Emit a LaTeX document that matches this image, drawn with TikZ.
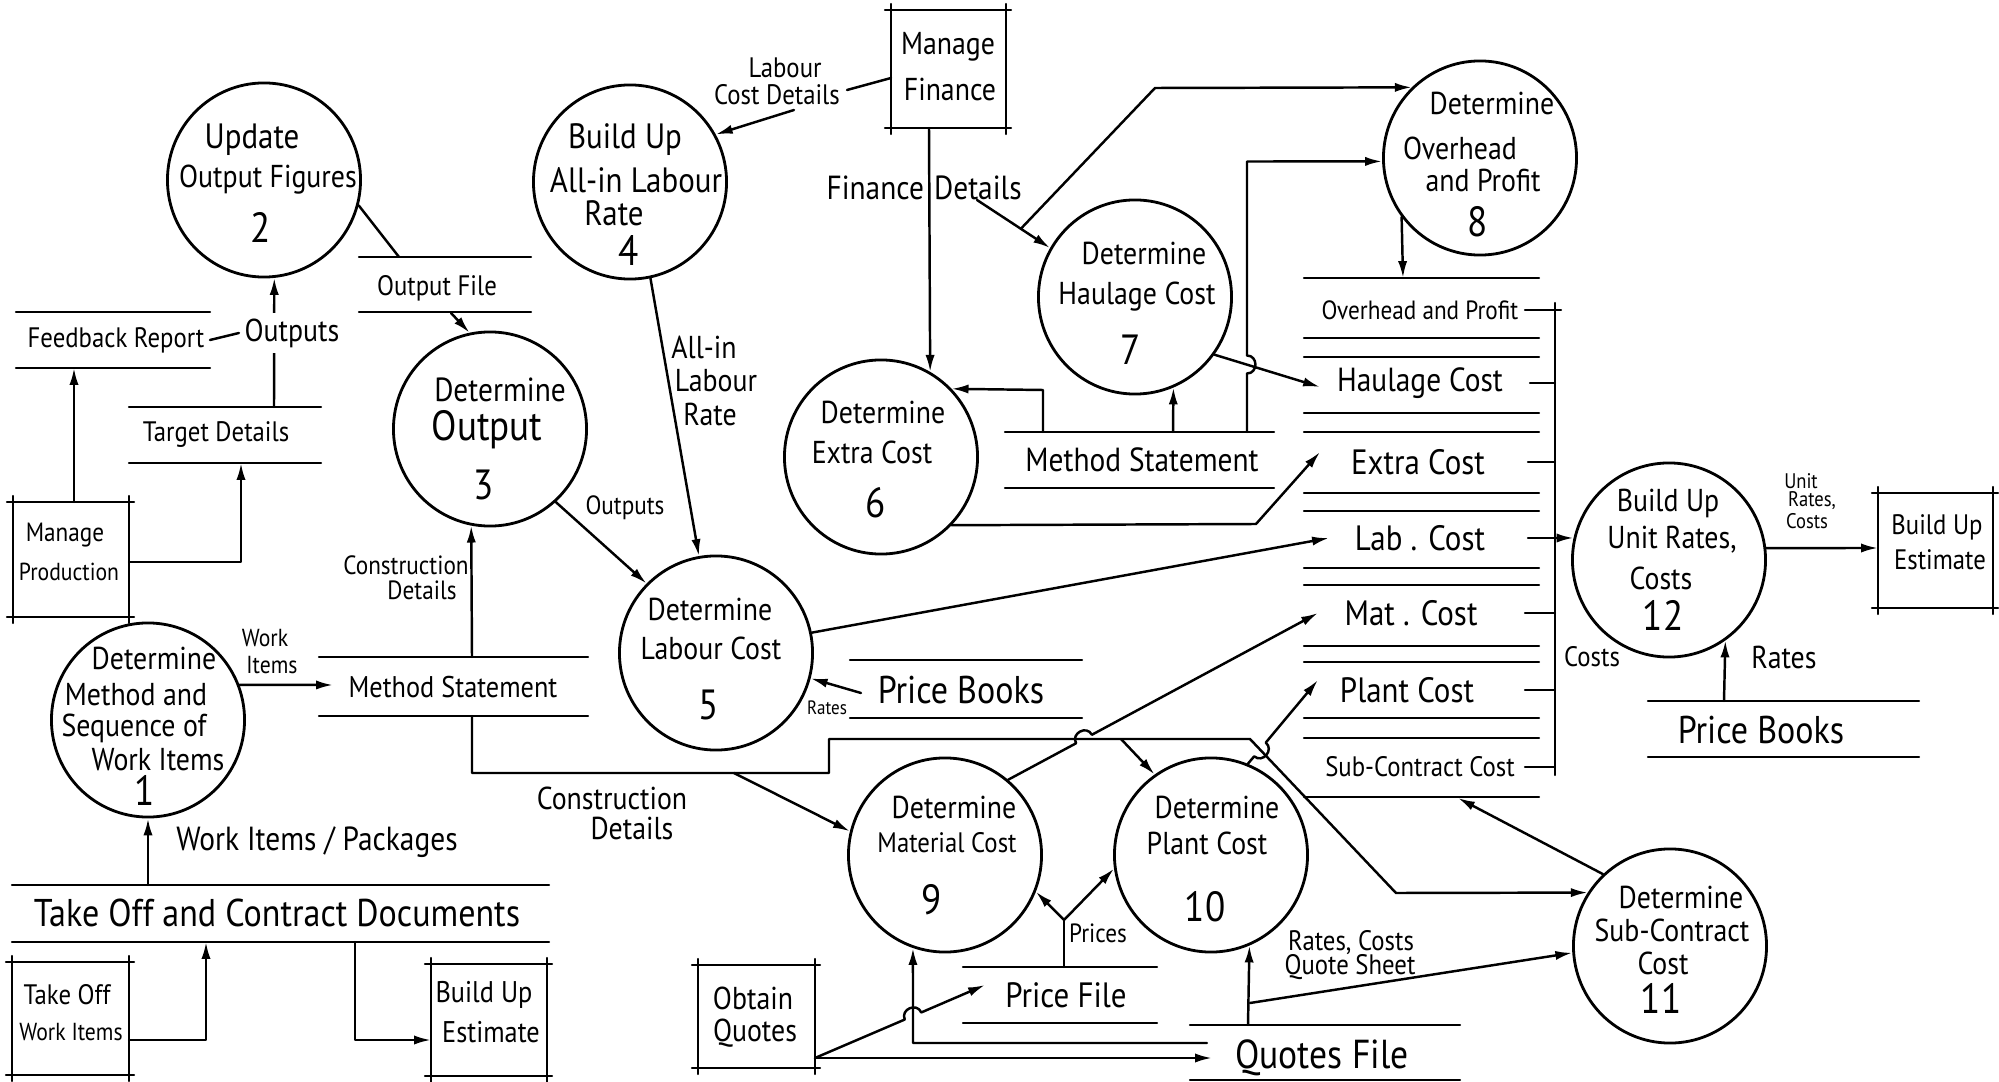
\documentclass[tikz,border=0pt]{standalone}
\usepackage{fontspec}
\setmainfont{PT Sans}
\usetikzlibrary{arrows.meta,shapes.geometric,calc}

% external entity: two verticals and two horizontals crossing at the corners
\newcommand\extbox[4]{%
  \draw ({#1-6},#2) -- ({#3+5},#2);
  \draw ({#1-6},#4) -- ({#3+5},#4);
  \draw (#1,{#2-6}) -- (#1,{#4+6});
  \draw (#3,{#2-6}) -- (#3,{#4+6});}
% data store: two parallel horizontal lines
\newcommand\dstore[4]{%
  \draw (#1,#3) -- (#2,#3);
  \draw (#1,#4) -- (#2,#4);}

\begin{document}
\begin{tikzpicture}[x=0.01cm,y=-0.01cm,
  line width=0.7pt, line cap=round, line join=round,
  >={Latex[length=4.8pt,width=2.6pt]},
  proc/.style={draw, ellipse, minimum width=1.93cm, minimum height=1.94cm,
               inner sep=0pt, line width=0.8pt},
  t/.style={inner sep=0pt, font=\fontsize{#1}{#1}\selectfont, xscale=0.88, transform shape},
  lbl/.style={t=#1, fill=white, inner sep=1.5pt}]

\fill[white] (0,0) rectangle (1999,1082);
\useasboundingbox (0,0) rectangle (1999,1082);

% ---------------- processes ----------------
\node[proc] (c1) at (148,720) {};
\node[proc] (c2) at (264,180) {};
\node[proc] (c3) at (490,429) {};
\node[proc] (c4) at (630,182) {};
\node[proc] (c5) at (716,653) {};
\node[proc] (c6) at (881,457) {};
\node[proc] (c7) at (1135,297) {};
\node[proc] (c8) at (1480,158) {};
\node[proc] (c9) at (945,855) {};
\node[proc] (c10) at (1211,855) {};
\node[proc] (c11) at (1670,946) {};
\node[proc] (c12) at (1669,560) {};

\node[t=9pt] (c1a) at (154,658) {Determine};
\node[t=9pt] (c1b) at (136,695) {Method and};
\node[t=9pt] (c1c) at (134,728) {Sequence of};
\node[t=9pt] (c1d) at (158,760) {Work Items};
\node[t=12pt] (c1n) at (145,790) {1};

\node[t=10pt] (c2a) at (252,140) {Update};
\node[t=9pt] (c2b) at (268,180) {Output Figures};
\node[t=12pt] (c2n) at (261,227) {2};

\node[t=9.5pt] (c3a) at (500,390) {Determine};
\node[t=12pt] (c3b) at (487,430) {Output};
\node[t=12pt] (c3n) at (484,485) {3};

\node[t=10pt] (c4a) at (625,140) {Build Up};
\node[t=10pt] (c4b) at (636,180) {All-in Labour};
\node[t=10pt] (c4c) at (614,213) {Rate};
\node[t=12pt] (c4n) at (629,250) {4};

\node[t=9pt] (c5a) at (710,609) {Determine};
\node[t=9pt] (c5b) at (711,648) {Labour Cost};
\node[t=12pt] (c5n) at (709,705) {5};

\node[t=9pt] (c6a) at (883,412) {Determine};
\node[t=9pt] (c6b) at (872,452) {Extra Cost};
\node[t=12pt] (c6n) at (876,503) {6};

\node[t=9pt] (c7a) at (1144,253) {Determine};
\node[t=9pt] (c7b) at (1137,297) {Haulage Cost};
\node[t=12pt] (c7n) at (1131,350) {7};

\node[t=9pt] (c8a) at (1492,103) {Determine};
\node[t=9pt] (c8b) at (1460,148) {Overhead};
\node[t=9pt] (c8c) at (1483,180) {and Profit};
\node[t=12pt] (c8n) at (1478,222) {8};

\node[t=9pt] (c9a) at (954,807) {Determine};
\node[t=8pt] (c9b) at (947,843) {Material Cost};
\node[t=12pt] (c9n) at (932,900) {9};

\node[t=9pt] (c10a) at (1217,807) {Determine};
\node[t=9pt] (c10b) at (1207,843) {Plant Cost};
\node[t=12pt] (c10n) at (1205,907) {10};

\node[t=9pt] (c11a) at (1681,897) {Determine};
\node[t=9pt] (c11b) at (1672,930) {Sub-Contract};
\node[t=9pt] (c11c) at (1663,963) {Cost};
\node[t=12pt] (c11n) at (1661,998) {11};

\node[t=9pt] (c12a) at (1668,503) {Build Up};
\node[t=9pt] (c12b) at (1672,540) {Unit Rates,};
\node[t=9pt] (c12c) at (1661,578) {Costs};
\node[t=12pt] (c12n) at (1663,615) {12};

% ---------------- external entities ----------------
\extbox{891}{10}{1006}{128}
\node[t=9pt] (mfa) at (948,47) {Manage};
\node[t=9pt] (mfb) at (950,89) {Finance};

\extbox{13}{502}{129}{617}
\node[t=7.5pt] (mpa) at (65,535) {Manage};
\node[t=7pt] (mpb) at (69,572) {Production};

\extbox{1878}{493}{1993}{608}
\node[t=8pt] (bea) at (1937,527) {Build Up};
\node[t=8pt] (beb) at (1940,560) {Estimate};

\extbox{698}{965}{815}{1068}
\node[t=9pt] (oqa) at (753,998) {Obtain};
\node[t=9pt] (oqb) at (755,1033) {Quotes};

\extbox{12}{962}{129}{1075}
\node[t=8pt] (twa) at (67,995) {Take Off};
\node[t=7pt] (twb) at (71,1032) {Work Items};

\extbox{431}{964}{547}{1076}
\node[t=8.5pt] (bba) at (484,995) {Build Up};
\node[t=8.5pt] (bbb) at (491,1032) {Estimate};

% ---------------- data stores ----------------
\dstore{359}{531}{257}{312}
\node[t=8pt] (sof) at (437,288) {Output File};
\dstore{16}{210}{312}{368}
\node[t=8pt] (sfb) at (116,340) {Feedback Report};
\dstore{129}{321}{407}{463}
\node[t=8pt] (std) at (216,435) {Target Details};
\dstore{319}{588}{657}{716}
\node[t=8.5pt] (sml) at (453,687) {Method Statement};
\dstore{1005}{1274}{432}{488}
\node[t=9.5pt] (smr) at (1142,460) {Method Statement};
\dstore{850}{1082}{660}{718}
\node[t=11pt] (spm) at (961,690) {Price Books};
\dstore{1648}{1919}{701}{757}
\node[t=11pt] (spr) at (1761,730) {Price Books};
\dstore{963}{1157}{967}{1023}
\node[t=10pt] (spf) at (1066,995) {Price File};
\dstore{1190}{1460}{1025}{1080}
\node[t=11.5pt] (sqf) at (1322,1058) {Quotes File};
\dstore{12}{549}{885}{942}
\node[t=11pt] (stc) at (277,913) {Take Off and Contract Documents};

% cost file with its rows
\foreach \yy in {278,338,357,413,432,493,511,568,585,646,662,718,738,797}
  \draw (1304,\yy) -- (1539,\yy);
\draw (1555,303) -- (1555,775);
\node[t=7.5pt] (r1) at (1420,310) {Overhead and Profit};
\node[t=9.5pt] (r2) at (1420,383) {Haulage Cost};
\node[t=10pt] (r3) at (1418,462) {Extra Cost};
\node[t=10pt] (r4) at (1420,538) {Lab . Cost};
\node[t=10pt] (r5) at (1411,613) {Mat . Cost};
\node[t=10pt] (r6) at (1407,690) {Plant Cost};
\node[t=8pt] (r7) at (1420,767) {Sub-Contract Cost};
\draw (1525,310) -- (1561,310);
\draw (1530,383) -- (1555,383);
\draw (1528,462) -- (1555,462);
\draw (1528,538) -- (1555,538);
\draw (1525,613) -- (1555,613);
\draw (1525,690) -- (1555,690);
\draw (1525,767) -- (1555,767);

% ---------------- data flows ----------------
% output figures
\coordinate (ofT) at (399,257);
\draw (c2.-15) -- (ofT);
\coordinate (ofB) at (451,313);
\draw[->] (ofB) -- (c3.102);
\coordinate (tdT) at (274,407);
\draw[->] (tdT) -- (c2.-84);
\node[lbl=9pt] (outA) at (292,333) {Outputs};
\coordinate (fbR) at (210,340);
\draw (fbR) -- (outA.west);
\coordinate (mpT) at (74,502);
\coordinate (fbB) at (74,368);
\draw[->] (mpT) -- (fbB);
\coordinate (mpR) at (129,562);
\coordinate (tdB) at (241,463);
\draw[->] (mpR) -| (tdB);

% finance
\coordinate (mfL) at (891,78);
\coordinate (lcd1) at (847,90);
\coordinate (lcd2) at (794,110);
\draw (mfL) -- (lcd1);
\draw[->] (lcd2) -- (c4.29);
\node[t=8pt] (lcdA) at (785,68) {Labour};
\node[t=8pt] (lcdB) at (777,95) {Cost Details};

\coordinate (mfB) at (929,128);
\draw[->] (mfB) -- (c6.60);
\node[t=9.5pt,anchor=east] (fdA) at (925,188) {Finance};
\node[t=9.5pt,anchor=west] (fdB) at (933,188) {Details};
\coordinate (fdS) at (977,200);
\draw[->] (fdS) -- (c7.150);
\coordinate (fdJ) at ($(fdS)!0.6!(c7.150)$);
\coordinate (ohK) at (1155,88);
\draw[->] (fdJ) -- (ohK) -- (c8.134);

% method statement to processes 6, 7, 8
\coordinate (msR1) at (1043,432);
\coordinate (msR1t) at (1043,390);
\draw[->] (msR1) -- (msR1t) -- (c6.44);
\coordinate (msR2) at (1173,432);
\draw[->] (msR2) -- (c7.-67);
\coordinate (msR3) at (1247,432);
\coordinate (hopA) at (1247,364.5);
\coordinate (ohK2) at (1247,161.5);
\draw[->] (msR3) -- ($(hopA)+(0,9)$) to[bend right=90,looseness=1.6] ($(hopA)+(0,-9)$)
  -- (ohK2) -- (c8.182);

% costs into the cost file
\coordinate (hcIn) at (1320,387);
\draw[->] (c7.-36) -- (hcIn);
\coordinate (ecK) at (1256,524);
\coordinate (ecIn) at (1320,452);
\draw[->] (c6.-44) -- (ecK) -- (ecIn);
\coordinate (stT) at (1403,278);
\draw[->] (c8.-143) -- (stT);
\coordinate (lcIn) at (1329,538);
\draw[->] (c5.12) -- (lcIn);
\coordinate (mcIn) at (1318,613);
\coordinate (hop1) at (1084,739);
\draw[->] (c9.50) -- ($(hop1)!0.09cm!(c9.50)$) to[bend left=90,looseness=1.6]
  ($(hop1)!0.09cm!(mcIn)$) -- (mcIn);
\coordinate (pcIn) at (1318,680);
\coordinate (hop2) at (1260,749.5);
\draw[->] (c10.68) -- ($(hop2)!0.09cm!(c10.68)$) to[bend right=90,looseness=1.6]
  ($(hop2)!0.09cm!(pcIn)$) -- (pcIn);
\coordinate (stB) at (1458,798);
\draw[->] (c11.133) -- (stB);

% all-in labour rate and outputs
\draw[->] (c4.-78) -- (c5.100);
\node[t=9pt] (alA) at (704,347) {All-in};
\node[t=9pt] (alB) at (716,381) {Labour};
\node[t=9pt] (alC) at (710,414) {Rate};
\draw[->] (c3.-48) -- (c5.135);
\node[t=7.5pt] (outB) at (625,508) {Outputs};

% method statement (left)
\coordinate (msLin) at (333,685);
\draw[->] (c1.21) -- (msLin);
\node[t=7pt] (wiA) at (265,638) {Work};
\node[t=7pt] (wiB) at (272,665) {Items};
\coordinate (msL1) at (472,657);
\draw[->] (msL1) -- (c3.-101);
\node[t=7.5pt] (cdA) at (406,565) {Construction};
\node[t=7.5pt] (cdB) at (422,590) {Details};

% construction details to processes 9, 10, 11
\coordinate (msL2) at (472,716);
\coordinate (cd1) at (472,773);
\coordinate (cd2) at (829,773);
\coordinate (cd3) at (829,739);
\coordinate (cd4) at (1250,739);
\coordinate (cd5) at (1396,893);
\draw[->] (msL2) -- (cd1) -- (cd2) -- (cd3) -- (cd4) -- (cd5) -- (c11.147);
\coordinate (cdX) at (734,773);
\draw[->] (cdX) -- (c9.166);
\coordinate (cdY) at (1121,739);
\draw[->] (cdY) -- (c10.125);
\node[t=9pt] (cdC) at (612,798) {Construction};
\node[t=9pt] (cdD) at (632,828) {Details};

% price books
\coordinate (pbmL) at (861,693);
\draw[->] (pbmL) -- (c5.-15);
\node[t=5.5pt] (rtA) at (827,708) {Rates};
\coordinate (pbrT) at (1724,701);
\draw[->] (pbrT) -- (c12.-55);
\node[t=9pt] (rtB) at (1784,657) {Rates};
\coordinate (stV) at (1555,538);
\draw[->] (stV) -- (c12.167);
\node[t=8pt] (csA) at (1592,657) {Costs};
\coordinate (bueL) at (1878,548);
\draw[->] (c12.7) -- (bueL);
\node[t=6pt] (urA) at (1801,481) {Unit};
\node[t=6pt] (urB) at (1812,501) {Rates,};
\node[t=6pt] (urC) at (1807,521) {Costs};

% prices
\coordinate (pfT) at (1064,967);
\coordinate (prY) at (1064,920);
\draw (pfT) -- (prY);
\draw[->] (prY) -- (c9.-22);
\draw[->] (prY) -- (c10.-172);
\node[t=7.5pt,anchor=west] (prA) at (1068,933) {Prices};

% quotes
\coordinate (oqR) at (815,1058);
\coordinate (pfIn) at (985,985);
\coordinate (hop3) at (913,1016);
\draw[->] (oqR) -- ($(hop3)!0.09cm!(oqR)$) to[bend left=90,looseness=1.6]
  ($(hop3)!0.09cm!(pfIn)$) -- (pfIn);
\coordinate (qfIn) at (1212,1058);
\draw[->] (oqR) -- (qfIn);
\coordinate (qfL) at (1207,1043);
\coordinate (qfK) at (913,1043);
\draw[->] (qfL) -- (qfK) -- (c9.-109);
\coordinate (qfT) at (1248,1025);
\draw[->] (qfT) -- (c10.-67);
\coordinate (qsK) at (1250,1003);
\draw[->] (qsK) -- (c11.184);
\node[t=8pt] (rcA) at (1351,943) {Rates, Costs};
\node[t=8pt] (rcB) at (1350,967) {Quote Sheet};

% take off
\coordinate (todT) at (148,885);
\draw[->] (todT) -- (c1.south);
\node[t=9.5pt] (wpA) at (317,842) {Work Items / Packages};
\coordinate (towR) at (129,1040);
\coordinate (todB1) at (206,942);
\draw[->] (towR) -| (todB1);
\coordinate (todB2) at (355,942);
\coordinate (bubL) at (431,1040);
\draw[->] (todB2) |- (bubL);

\end{tikzpicture}
\end{document}
